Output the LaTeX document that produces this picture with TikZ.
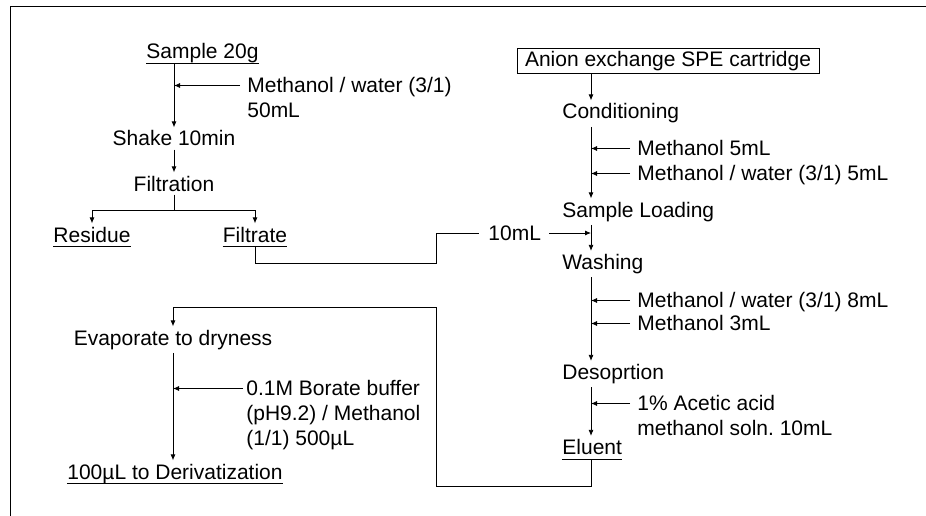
\documentclass[tikz,border=0pt]{standalone}
\usepackage{fontspec}
\setmainfont{Liberation Sans}
\usetikzlibrary{arrows.meta}
\frenchspacing
\begin{document}
\begin{tikzpicture}[x=1pt,y=-1pt,line width=0.8pt,
  txt/.style={font=\fontsize{21}{25}\selectfont, inner xsep=0pt, inner ysep=3pt, align=left},
  arr/.style={-{Latex[length=6pt,width=5pt]}}]
\useasboundingbox (0,0) rectangle (926,516);
\draw (10.5,516) -- (10.5,6) -- (926,6);
\coordinate (R) at (591,0);
% left column
\node[txt, anchor=base west] (sample) at (146,59) {Sample 20g};
\node[txt, anchor=north west] (meth1) at (247,73.7) {Methanol / water (3/1)\\50mL};
\node[txt, anchor=base] (shake) at (174,146) {Shake 10min};
\node[txt, anchor=base] (filt) at (174,191) {Filtration};
\node[txt, anchor=base] (residue) at (92,242) {Residue};
\node[txt, anchor=base] (filtrate) at (255,242) {Filtrate};
\node[txt, anchor=base] (evap) at (173,345) {Evaporate to dryness};
\node[txt, anchor=north west] (borate) at (246,376.7) {0.1M Borate buffer\\(pH9.2) / Methanol\\(1/1) 500µL};
\node[txt, anchor=base] (deriv) at (175,479) {100µL to Derivatization};
% right column
\node[draw, font=\fontsize{21}{25}\selectfont, inner xsep=8pt, inner ysep=0pt, minimum height=25pt] (spe) at (668,61) {Anion exchange SPE cartridge};
\node[txt, anchor=base west] (cond) at (562,119) {Conditioning};
\node[txt, anchor=base west] (meth5) at (637,155) {Methanol 5mL};
\node[txt, anchor=base west] (methw5) at (637,180) {Methanol / water (3/1) 5mL};
\node[txt, anchor=base west] (load) at (562,217) {Sample Loading};
\node[txt, anchor=base west] (tenml) at (488,240) {10mL};
\node[txt, anchor=base west] (wash) at (562,269.5) {Washing};
\node[txt, anchor=base west] (methw8) at (637,307) {Methanol / water (3/1) 8mL};
\node[txt, anchor=base west] (meth3) at (637,330) {Methanol 3mL};
\node[txt, anchor=base west] (desorp) at (562,379.5) {Desoprtion};
\node[txt, anchor=north west] (acetic) at (637,391.7) {1\% Acetic acid\\methanol soln. 10mL};
\node[txt, anchor=base west] (eluent) at (562,454.5) {Eluent};
% underlines
\foreach \n in {sample,residue,filtrate,eluent,deriv}
  \draw ([yshift=-4.5pt]\n.base west) -- ([yshift=-4.5pt]\n.base east);
\coordinate (sampleU) at ([yshift=-4.5pt]sample.base);
\coordinate (filtU) at ([yshift=-4.5pt]filtrate.base);
\coordinate (eluU) at ([yshift=-4.5pt]eluent.base);
% left connectors
\draw[arr] (sampleU -| shake.north) -- (shake.north);
\coordinate (a1) at ([xshift=-7pt,yshift=-11.8pt]meth1.north west);
\draw[arr] (a1) -- (a1 -| shake.north);
\draw[arr] (shake.south) -- (filt.north);
\coordinate (br) at (174,210);
\draw (filt.south) -- (br);
\draw[arr] (br) -| (residue.north);
\draw[arr] (br) -| (filtrate.north);
\coordinate (f1) at (436,263);
\coordinate (f2) at (436,233);
\draw (filtU) |- (f1) -- (f2) -- ([xshift=-9pt]tenml.west |- f2);
\draw[arr] ([xshift=8pt]tenml.east |- f2) -- (f2 -| R);
\draw[arr] (evap.south) -- (evap.south |- deriv.north);
\coordinate (c1) at ([xshift=-3pt,yshift=-11.8pt]borate.north west);
\draw[arr] (c1) -- (c1 -| evap.south);
% right connectors
\draw[arr] (spe.south -| R) -- (cond.north -| R);
\draw[arr] (cond.south -| R) -- (load.north -| R);
\draw[arr] (load.south -| R) -- (wash.north -| R);
\draw[arr] (wash.south -| R) -- (desorp.north -| R);
\draw[arr] (desorp.south -| R) -- (eluent.north -| R);
\foreach \n in {meth5,methw5,methw8,meth3} {
  \coordinate (b) at ([xshift=-7pt,yshift=6.5pt]\n.base west);
  \draw[arr] (b) -- (b -| R);
}
\coordinate (d1) at ([xshift=-7pt,yshift=-11.8pt]acetic.north west);
\draw[arr] (d1) -- (d1 -| R);
% eluent to evaporate
\coordinate (e1) at (436,486);
\coordinate (e2) at (436,307.5);
\draw[arr] (eluU -| R) |- (e1) -- (e2) -| (evap.north);
\end{tikzpicture}
\end{document}
